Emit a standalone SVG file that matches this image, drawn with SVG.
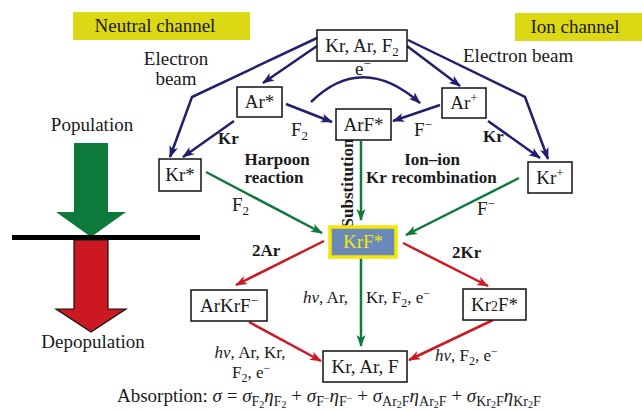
<svg xmlns="http://www.w3.org/2000/svg" width="642" height="410" viewBox="0 0 642 410">
<style>
text{font-family:"Liberation Serif","Times New Roman",serif;fill:#1a1a1a;font-size:19px}
.c{text-anchor:middle}
.b{font-weight:bold;font-size:17px}
.i{font-style:italic}
.s{font-size:17px}
.box{fill:#fff;stroke:#111;stroke-width:1.5}
.nv{fill:none;stroke:#20206e;stroke-width:2.5}
.gr{fill:none;stroke:#0f7a3a;stroke-width:2.5}
.rd{fill:none;stroke:#cc1a24;stroke-width:2.5}
.nv{marker-end:url(#aN)}
.gr{marker-end:url(#aG)}
.rd{marker-end:url(#aR)}
.tag{fill:#dcd814}
</style>
<defs>
<marker id="aN" viewBox="0 0 12 10" refX="11" refY="5" markerWidth="12" markerHeight="10" markerUnits="userSpaceOnUse" orient="auto"><path d="M0,0.5 L12,5 L0,9.5 L3,5 Z" fill="#20206e"/></marker>
<marker id="aG" viewBox="0 0 12 10" refX="11" refY="5" markerWidth="12" markerHeight="10" markerUnits="userSpaceOnUse" orient="auto"><path d="M0,0.5 L12,5 L0,9.5 L3,5 Z" fill="#0f7a3a"/></marker>
<marker id="aR" viewBox="0 0 12 10" refX="11" refY="5" markerWidth="12" markerHeight="10" markerUnits="userSpaceOnUse" orient="auto"><path d="M0,0.5 L12,5 L0,9.5 L3,5 Z" fill="#cc1a24"/></marker>
</defs>

<g id="neutral-title"><rect class="tag" x="73" y="12" width="177" height="28"/><text class="c" x="155" y="32" font-size="20">Neutral channel</text></g>
<g id="ion-title"><rect class="tag" x="515" y="13" width="127" height="28"/><text class="c" x="575" y="33" font-size="20">Ion channel</text></g>

<g id="left-scale">
<text class="c" x="92" y="131">Population</text>
<path d="M74,143 L108,143 L108,212 L126,212 L91,237 L56,212 L74,212 Z" fill="#0d7a3b"/>
<path d="M74,240 L108,240 L108,309 L126,309 L91,332 L56,309 L74,309 Z" fill="#cc1820" stroke="#111" stroke-width="1.2"/>
<line x1="12" y1="237.5" x2="200" y2="237.5" stroke="#000" stroke-width="5"/>
<text class="c" x="93" y="348">Depopulation</text>
</g>

<g id="connectors">
<path class="nv" d="M317,38 L192,97 L170,157"/>
<path class="nv" d="M317,46 L263,83"/>
<path class="nv" d="M234,121 L183,157"/>
<path class="nv" d="M286,104 L332,122"/>
<path class="nv" d="M311,102 Q362,52 420,103"/>
<path class="nv" d="M407,46 L460,86"/>
<path class="nv" d="M408,40 L525,97 L548,159"/>
<path class="nv" d="M488,121 L540,158"/>
<path class="nv" d="M440,105 L393,121"/>
<path class="gr" d="M361,141 L361,220"/>
<path class="gr" d="M206,172 L322,233"/>
<path class="gr" d="M519,178 L406,235"/>
<path class="gr" d="M361,258 L361,346"/>
<path class="rd" d="M324,241 L236,285"/>
<path class="rd" d="M403,243 L488,286"/>
<path class="rd" d="M249,322 L321,361"/>
<path class="rd" d="M493,320 L409,360"/>
</g>

<g id="labels">
<text class="c" x="176" y="65" font-size="18">Electron</text>
<text class="c" x="176" y="85" font-size="18">beam</text>
<text x="463" y="62">Electron beam</text>
<text x="355" y="75">e<tspan font-size="13" dy="-7">−</tspan></text>
<text x="291" y="136" fill="#333">F<tspan font-size="13" dy="4">2</tspan></text>
<text x="414" y="136" fill="#333">F<tspan font-size="13" dy="-7">−</tspan></text>
<text class="b" x="218" y="144" font-size="18">Kr</text>
<text class="b" x="483" y="142" font-size="18">Kr</text>
<text class="b c" x="277" y="165">Harpoon</text>
<text class="b c" x="274" y="183">reaction</text>
<text class="b c" transform="translate(353,183) rotate(-90)" font-size="16">Substitution</text>
<text class="b" x="366" y="183" font-size="18">Kr</text>
<text class="b c" x="432" y="165">Ion–ion</text>
<text class="b c" x="444" y="183">recombination</text>
<text x="232" y="211" fill="#333">F<tspan font-size="13" dy="4">2</tspan></text>
<text x="477" y="215" fill="#333">F<tspan font-size="13" dy="-7">−</tspan></text>
<text class="b" x="252" y="256" font-size="18">2Ar</text>
<text class="b" x="452" y="258" font-size="18">2Kr</text>
<text class="s" x="303" y="303"><tspan class="i">hv</tspan>, Ar,</text>
<text class="s" x="366" y="303">Kr, F<tspan font-size="12" dy="4">2</tspan><tspan dy="-4">, e</tspan><tspan font-size="12" dy="-6">−</tspan></text>
<text class="s c" x="250" y="358"><tspan class="i">hv</tspan>, Ar, Kr,</text>
<text class="s" x="232" y="378">F<tspan font-size="12" dy="4">2</tspan><tspan dy="-4">, e</tspan><tspan font-size="12" dy="-6">−</tspan></text>
<text class="s" x="435" y="361"><tspan class="i">hv</tspan>, F<tspan font-size="12" dy="4">2</tspan><tspan dy="-4">, e</tspan><tspan font-size="12" dy="-6">−</tspan></text>
<text x="117" y="402" font-size="20">Absorption: <tspan class="i">σ</tspan> = <tspan class="i">σ</tspan><tspan font-size="14" dy="4">F</tspan><tspan font-size="10" dy="2">2</tspan><tspan class="i" dy="-6">η</tspan><tspan font-size="14" dy="4">F</tspan><tspan font-size="10" dy="2">2</tspan><tspan dy="-6"> + </tspan><tspan class="i">σ</tspan><tspan font-size="14" dy="4">F</tspan><tspan font-size="10" dy="-4">−</tspan><tspan class="i" dy="0">η</tspan><tspan font-size="14" dy="4">F</tspan><tspan font-size="10" dy="-4">−</tspan><tspan dy="0"> + </tspan><tspan class="i">σ</tspan><tspan font-size="14" dy="4">Ar</tspan><tspan font-size="10" dy="2">2</tspan><tspan font-size="14" dy="-2">F</tspan><tspan class="i" dy="-4">η</tspan><tspan font-size="14" dy="4">Ar</tspan><tspan font-size="10" dy="2">2</tspan><tspan font-size="14" dy="-2">F</tspan><tspan dy="-4"> + </tspan><tspan class="i">σ</tspan><tspan font-size="14" dy="4">Kr</tspan><tspan font-size="10" dy="2">2</tspan><tspan font-size="14" dy="-2">F</tspan><tspan class="i" dy="-4">η</tspan><tspan font-size="14" dy="4">Kr</tspan><tspan font-size="10" dy="2">2</tspan><tspan font-size="14" dy="-2">F</tspan></text>
</g>

<g id="n-mix"><rect class="box" x="317" y="30" width="90" height="31"/><text class="c" x="362" y="52">Kr, Ar, F<tspan font-size="13" dy="4">2</tspan></text></g>
<g id="n-arstar"><rect class="box" x="237" y="87" width="45" height="30"/><text class="c" x="259.5" y="108">Ar*</text></g>
<g id="n-arplus"><rect class="box" x="442" y="88" width="44" height="30"/><text class="c" x="464" y="109">Ar<tspan font-size="13" dy="-7">+</tspan></text></g>
<g id="n-arf"><rect class="box" x="336" y="109" width="55" height="31"/><text class="c" x="363.5" y="131">ArF*</text></g>
<g id="n-krstar"><rect class="box" x="159" y="159" width="42" height="32"/><text class="c" x="180" y="181">Kr*</text></g>
<g id="n-krplus"><rect class="box" x="528" y="162" width="44" height="31"/><text class="c" x="550" y="184">Kr<tspan font-size="13" dy="-7">+</tspan></text></g>
<g id="n-krf"><rect x="330" y="227" width="66" height="30" fill="#6a88b8" stroke="#f4e800" stroke-width="3.5"/><text class="c" x="363" y="248" style="fill:#f2e60a">KrF*</text></g>
<g id="n-arkrf"><rect class="box" x="191" y="290" width="76" height="31"/><text class="c" x="229" y="312">ArKrF<tspan font-size="13" dy="-7">−</tspan></text></g>
<g id="n-kr2f"><rect class="box" x="463" y="289" width="63" height="31"/><text class="c" x="494.5" y="311">Kr<tspan font-size="14">2</tspan>F*</text></g>
<g id="n-final"><rect class="box" x="323" y="351" width="84" height="31"/><text class="c" x="365" y="373">Kr, Ar, F</text></g>
</svg>
